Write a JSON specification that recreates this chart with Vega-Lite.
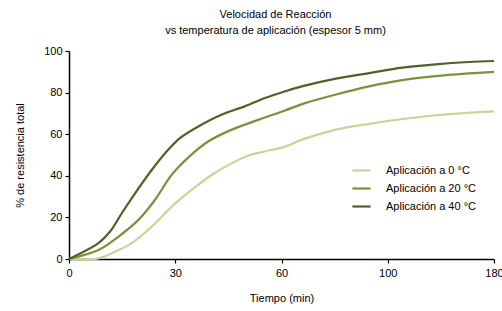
{
  "$schema": "https://vega.github.io/schema/vega-lite/v6.json",
  "autosize": {"type": "none"},
  "width": 425,
  "height": 208,
  "padding": {"left": 69, "top": 51, "right": 8, "bottom": 52},
  "background": "white",
  "config": {
    "font": "Liberation Sans",
    "view": {"stroke": null},
    "axis": {"grid": false, "domainColor": "black", "tickColor": "black", "labelColor": "black", "titleColor": "black", "labelFontSize": 11, "titleFontSize": 11, "titleFontWeight": "normal", "domainWidth": 1.5, "tickWidth": 1.2, "tickSize": 4}
  },
  "title": {
    "text": ["Velocidad de Reacción", "vs  temperatura  de  aplicación  (espesor  5  mm)"],
    "fontSize": 11,
    "fontWeight": "normal",
    "color": "black",
    "anchor": "middle",
    "offset": 9,
    "lineHeight": 16,
    "dx": -6
  },
  "data": {
    "values": [
      {"t": 0, "v": 0, "s": "Aplicación  a 0 °C"},
      {"t": 8.3, "v": 0.3, "s": "Aplicación  a 0 °C"},
      {"t": 13, "v": 3.5, "s": "Aplicación  a 0 °C"},
      {"t": 17.7, "v": 7.6, "s": "Aplicación  a 0 °C"},
      {"t": 23.4, "v": 15.6, "s": "Aplicación  a 0 °C"},
      {"t": 29, "v": 25.2, "s": "Aplicación  a 0 °C"},
      {"t": 34.7, "v": 33.3, "s": "Aplicación  a 0 °C"},
      {"t": 40.4, "v": 40.5, "s": "Aplicación  a 0 °C"},
      {"t": 46, "v": 46.1, "s": "Aplicación  a 0 °C"},
      {"t": 50.8, "v": 49.8, "s": "Aplicación  a 0 °C"},
      {"t": 55.5, "v": 51.8, "s": "Aplicación  a 0 °C"},
      {"t": 61.1, "v": 53.9, "s": "Aplicación  a 0 °C"},
      {"t": 68, "v": 57.5, "s": "Aplicación  a 0 °C"},
      {"t": 80.5, "v": 62.2, "s": "Aplicación  a 0 °C"},
      {"t": 93, "v": 65.0, "s": "Aplicación  a 0 °C"},
      {"t": 111, "v": 67.3, "s": "Aplicación  a 0 °C"},
      {"t": 136, "v": 69.1, "s": "Aplicación  a 0 °C"},
      {"t": 161, "v": 70.3, "s": "Aplicación  a 0 °C"},
      {"t": 180, "v": 71, "s": "Aplicación  a 0 °C"},
      {"t": 0, "v": 0, "s": "Aplicación  a 20 °C"},
      {"t": 8.3, "v": 4.3, "s": "Aplicación  a 20 °C"},
      {"t": 14, "v": 10.8, "s": "Aplicación  a 20 °C"},
      {"t": 19.6, "v": 18.8, "s": "Aplicación  a 20 °C"},
      {"t": 24.3, "v": 28.5, "s": "Aplicación  a 20 °C"},
      {"t": 29, "v": 40.5, "s": "Aplicación  a 20 °C"},
      {"t": 33.8, "v": 49.0, "s": "Aplicación  a 20 °C"},
      {"t": 39.4, "v": 56.6, "s": "Aplicación  a 20 °C"},
      {"t": 46, "v": 62.2, "s": "Aplicación  a 20 °C"},
      {"t": 53.6, "v": 67, "s": "Aplicación  a 20 °C"},
      {"t": 61.1, "v": 71.3, "s": "Aplicación  a 20 °C"},
      {"t": 68, "v": 74.6, "s": "Aplicación  a 20 °C"},
      {"t": 80.5, "v": 79.1, "s": "Aplicación  a 20 °C"},
      {"t": 93, "v": 83.0, "s": "Aplicación  a 20 °C"},
      {"t": 111, "v": 86, "s": "Aplicación  a 20 °C"},
      {"t": 136, "v": 87.9, "s": "Aplicación  a 20 °C"},
      {"t": 161, "v": 89.2, "s": "Aplicación  a 20 °C"},
      {"t": 180, "v": 90, "s": "Aplicación  a 20 °C"},
      {"t": 0, "v": 0, "s": "Aplicación  a 40 °C"},
      {"t": 8.3, "v": 7.6, "s": "Aplicación  a 40 °C"},
      {"t": 11.6, "v": 13.2, "s": "Aplicación  a 40 °C"},
      {"t": 14.9, "v": 22, "s": "Aplicación  a 40 °C"},
      {"t": 18.7, "v": 31.7, "s": "Aplicación  a 40 °C"},
      {"t": 23.4, "v": 42.9, "s": "Aplicación  a 40 °C"},
      {"t": 27.2, "v": 51, "s": "Aplicación  a 40 °C"},
      {"t": 31.4, "v": 58.2, "s": "Aplicación  a 40 °C"},
      {"t": 36.6, "v": 63.8, "s": "Aplicación  a 40 °C"},
      {"t": 43.2, "v": 69.5, "s": "Aplicación  a 40 °C"},
      {"t": 49.8, "v": 73.5, "s": "Aplicación  a 40 °C"},
      {"t": 55.5, "v": 77.5, "s": "Aplicación  a 40 °C"},
      {"t": 61.1, "v": 80.5, "s": "Aplicación  a 40 °C"},
      {"t": 68, "v": 83.1, "s": "Aplicación  a 40 °C"},
      {"t": 80.5, "v": 86.7, "s": "Aplicación  a 40 °C"},
      {"t": 93, "v": 89.4, "s": "Aplicación  a 40 °C"},
      {"t": 111, "v": 92, "s": "Aplicación  a 40 °C"},
      {"t": 136, "v": 93.6, "s": "Aplicación  a 40 °C"},
      {"t": 161, "v": 94.7, "s": "Aplicación  a 40 °C"},
      {"t": 180, "v": 95.2, "s": "Aplicación  a 40 °C"}
    ]
  },
  "mark": {"type": "line", "interpolate": "catmull-rom", "strokeWidth": 2.2},
  "encoding": {
    "x": {
      "field": "t", "type": "quantitative",
      "scale": {"domain": [0, 30, 60, 100, 180], "range": [0, 106.25, 212.5, 318.75, 425]},
      "axis": {"values": [0, 30, 60, 100, 180], "title": "Tiempo (min)", "titlePadding": 14, "labelPadding": 4, "labelFlush": false}
    },
    "y": {
      "field": "v", "type": "quantitative",
      "scale": {"domain": [0, 100]},
      "axis": {"values": [0, 20, 40, 60, 80, 100], "title": "% de resistencia  total", "titlePadding": 18, "labelPadding": 3}
    },
    "color": {
      "field": "s", "type": "nominal",
      "scale": {"domain": ["Aplicación  a 0 °C", "Aplicación  a 20 °C", "Aplicación  a 40 °C"], "range": ["#c3d69b", "#77933c", "#4f6228"]},
      "legend": {
        "title": null, "orient": "none", "legendX": 282, "legendY": 109,
        "symbolType": "stroke", "symbolStrokeWidth": 2.2, "symbolSize": 330,
        "labelFontSize": 11, "labelColor": "black", "rowPadding": 2, "labelOffset": 14
      }
    }
  }
}
